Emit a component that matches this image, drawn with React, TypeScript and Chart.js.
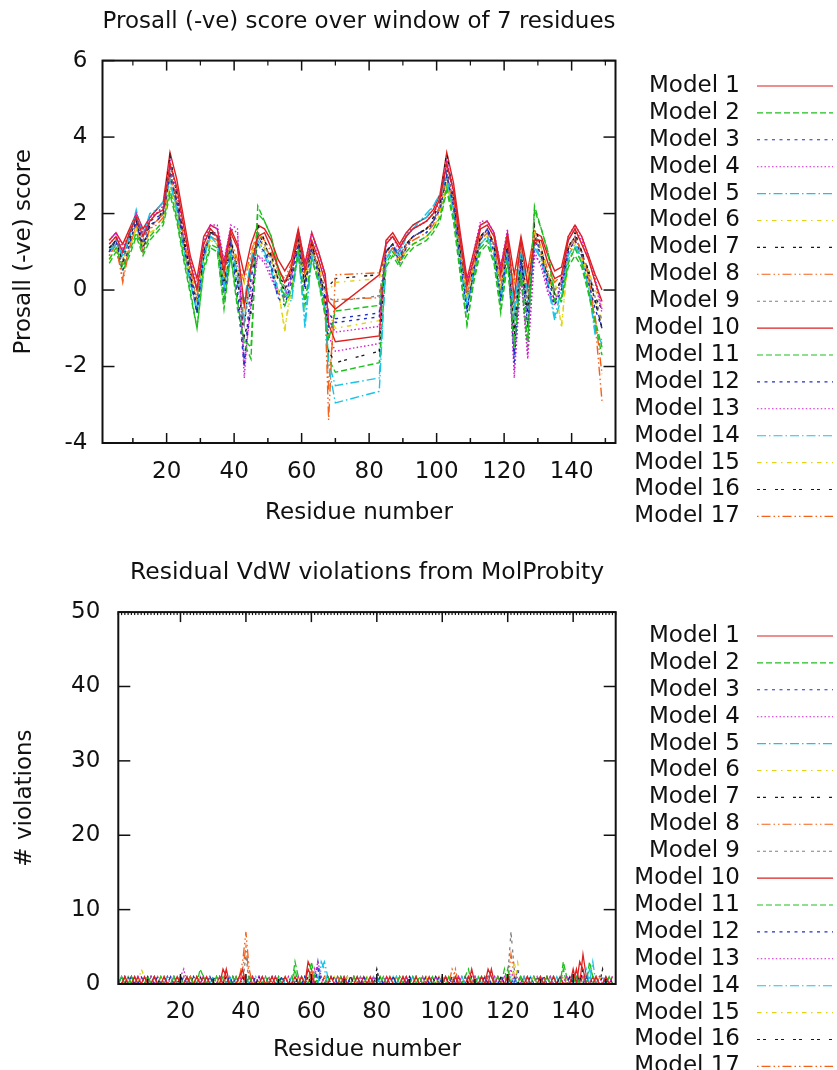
import React, { useEffect, useRef } from "react";
import { Chart, registerables } from "chart.js";

Chart.register(...registerables);

const FONT_FAMILY = "'DejaVu Sans', 'Liberation Sans', sans-serif";
const FONT_SIZE = 23;
const INK = "#111111";

const TOP_TITLE = "Prosall (-ve) score over window of 7 residues";
const TOP_Y_TITLE = "Prosall (-ve) score";
const BOTTOM_TITLE = "Residual VdW violations from MolProbity";
const BOTTOM_Y_TITLE = "# violations";
const X_TITLE = "Residue number";

const MODEL_LABELS = [
  "Model 1", "Model 2", "Model 3", "Model 4", "Model 5", "Model 6", "Model 7", "Model 8", "Model 9",
  "Model 10", "Model 11", "Model 12", "Model 13", "Model 14", "Model 15", "Model 16", "Model 17",
];

const LINE_COLORS = ["#dd2020", "#1fbf1f", "#2030c0", "#d020d0", "#1ac4e6", "#e0d414", "#1a1a1a", "#f5621a", "#808080"];
const LINE_DASHES = [
  [], [6, 3], [3, 4.5], [1.5, 2.25], [9, 3, 1.5, 3], [4.5, 4.5, 1.5, 4.5], [3, 3, 3, 9],
  [1.5, 3, 9, 3, 1.5, 3], [3, 3, 3, 3, 3, 3, 3, 6],
];

const X_TICKS = [20, 40, 60, 80, 100, 120, 140];
const X_MINOR_TICKS = [10, 30, 50, 70, 90, 110, 130, 150];
const TOP_Y_TICKS = [-4, -2, 0, 2, 4, 6];
const BOTTOM_Y_TICKS = [0, 10, 20, 30, 40, 50];

// Prosall window scores (residues sampled every 2; straight segment across 70-83)
const TOP_RESIDUES = [
  3, 5, 7, 9, 11, 13, 15, 17, 19, 21, 23, 25, 27, 29, 31, 33, 35, 37, 39, 41, 43, 45, 47, 49, 51, 53, 55, 57, 59, 61, 63, 65, 67, 68, 70,
  83, 85, 87, 89, 91, 93, 95, 97, 99, 101, 103, 105, 107, 109, 111, 113, 115, 117, 119, 121, 123, 125, 127, 129, 131, 133, 135, 137, 139, 141, 143, 145, 147, 149,
];

const PROSA_1 = [1.2,1.4,1.0,1.5,1.9,1.4,1.8,2.0,2.1,3.3,2.7,1.7,0.7,0.0,1.2,1.6,1.4,0.5,1.5,1.1,-0.4,0.6,1.4,1.5,1.1,0.6,0.2,0.6,1.5,0.5,1.3,0.8,0.2,-0.3,-0.5,
  0.4,1.2,1.4,1.1,1.4,1.6,1.7,1.8,2.0,2.4,3.3,2.6,1.3,0.1,0.8,1.6,1.7,1.4,0.4,1.4,-0.2,1.3,0.1,1.3,1.3,0.7,0.3,0.4,1.3,1.6,1.2,0.8,0.2,-0.3];
const PROSA_2 = [0.8,1.1,0.6,1.0,1.5,1.0,1.4,1.6,1.8,2.6,1.9,0.9,0.0,-1.0,0.6,1.2,1.1,-0.3,0.9,-0.3,-1.4,-1.8,2.2,1.8,1.4,0.5,-0.4,0.0,1.0,-0.3,0.8,0.3,-0.6,-1.3,-0.55,
  -0.4,0.7,1.0,0.7,1.0,1.2,1.3,1.4,1.6,1.9,2.7,1.9,0.5,-0.9,0.3,1.1,1.3,0.8,-0.5,0.8,-1.5,0.5,-1.3,2.2,1.6,1.0,-0.3,-0.2,0.7,1.1,0.7,0.0,-0.8,-1.5];
const PROSA_3 = [1.0,1.3,0.5,1.2,1.8,1.0,1.7,1.8,2.0,3.0,2.3,1.2,0.3,-0.6,0.9,1.5,1.4,-0.3,1.2,-0.2,-2.0,0.3,1.2,1.0,0.6,-0.2,-0.4,0.2,1.2,0.0,1.1,0.4,-0.3,-1.0,-0.75,
  -0.6,1.0,1.2,0.7,1.1,1.4,1.5,1.5,1.8,2.1,3.0,2.2,0.7,-0.6,0.5,1.3,1.6,1.0,-0.3,1.1,-1.9,0.8,-0.9,1.3,0.9,0.1,-0.4,0.0,1.0,1.3,0.9,0.2,-0.5,-1.0];
const PROSA_4 = [1.3,1.5,1.1,1.5,2.0,1.5,1.9,2.0,2.2,3.3,2.6,1.6,0.8,0.1,1.3,1.7,1.6,0.7,1.7,1.6,-2.3,0.0,0.9,0.8,0.4,-0.1,-0.2,0.3,1.5,0.6,1.5,0.9,0.3,-0.8,-1.1,
  -0.95,1.3,1.4,1.1,1.5,1.6,1.7,1.8,2.0,2.4,3.4,2.5,1.3,0.2,0.9,1.7,1.8,1.5,0.6,1.6,-2.3,0.4,-1.7,0.9,0.7,0.0,-0.3,0.1,1.3,1.6,1.3,0.8,0.2,-0.6];
const PROSA_5 = [1.0,1.2,0.9,1.4,2.1,1.4,2.0,2.1,2.3,2.8,2.1,1.1,0.2,-0.5,0.9,1.4,1.2,0.1,1.0,0.5,-0.3,0.8,1.3,1.0,0.6,0.0,0.0,-0.2,1.1,-1.0,0.9,0.3,-0.5,-2.0,-2.95,
  -2.65,0.8,1.1,0.9,1.4,1.6,1.8,1.9,2.2,2.5,2.9,2.1,0.8,-0.4,0.5,1.2,1.4,1.0,-0.2,1.0,-0.5,1.1,-0.1,1.2,0.8,0.2,-0.7,0.0,0.9,1.2,0.8,0.1,-1.2,-1.3];
const PROSA_6 = [0.8,1.1,0.8,1.1,1.6,1.2,1.5,1.6,1.8,2.7,2.0,1.1,0.4,-0.1,1.0,1.3,1.2,0.3,1.1,0.7,0.2,0.9,1.6,1.1,0.8,0.1,-1.1,0.3,1.0,0.4,1.0,0.6,0.1,0.0,0.2,
  0.3,0.9,1.0,0.8,1.0,1.2,1.3,1.4,1.6,2.0,2.7,2.0,0.8,-0.2,0.6,1.2,1.4,1.0,0.1,1.0,0.2,1.1,0.3,1.5,1.1,0.4,0.3,-1.0,0.9,1.2,0.8,0.5,0.0,-0.4];
const PROSA_7 = [1.1,1.3,0.7,1.3,1.8,1.1,1.7,1.8,2.1,3.5,2.5,1.4,0.5,-0.5,1.0,1.5,1.5,0.1,1.4,0.3,-1.2,-0.6,1.7,1.3,0.9,0.3,0.0,0.5,1.3,0.1,1.2,0.6,-0.2,-1.6,-1.9,
  -1.6,1.0,1.2,0.9,1.2,1.4,1.5,1.6,1.9,2.3,3.6,2.4,1.0,-0.4,0.6,1.4,1.6,1.2,-0.2,1.2,-1.2,0.9,-0.6,1.7,1.1,0.3,-0.1,0.3,1.1,1.5,1.0,0.5,-0.3,-1.0];
const PROSA_8 = [0.9,1.2,0.2,1.1,1.7,1.0,1.6,1.8,2.0,3.0,2.4,1.4,0.5,0.0,1.0,1.5,1.4,0.5,1.3,0.8,0.2,1.0,1.5,1.3,1.0,0.5,0.3,0.7,1.3,0.5,1.2,0.6,-0.6,-3.4,0.4,
  0.45,1.0,1.1,0.7,1.2,1.4,1.5,1.6,1.8,2.2,3.0,2.4,1.1,-0.1,0.7,1.4,1.6,1.2,0.2,1.2,0.2,1.2,0.2,1.6,1.1,0.5,0.2,0.4,1.1,1.4,1.0,0.4,-0.9,-2.9];
const PROSA_9 = [1.0,1.3,0.8,1.3,1.7,1.3,1.7,1.8,2.0,3.1,2.3,1.3,0.6,-0.3,1.0,1.5,1.4,0.3,1.3,0.4,-0.9,0.3,1.5,1.2,0.8,0.3,0.1,0.4,1.3,0.2,1.1,0.5,0.0,-0.2,-0.3,
  -0.15,1.0,1.2,0.9,1.2,1.4,1.5,1.6,1.8,2.2,3.1,2.3,1.0,-0.2,0.6,1.4,1.5,1.2,0.0,1.2,-1.0,1.0,-0.4,1.5,1.0,0.4,0.0,0.2,1.1,1.4,1.0,0.5,-0.2,-0.8];
const PROSA_10 = [1.3,1.5,1.2,1.6,2.0,1.6,1.9,2.1,2.3,3.6,2.9,1.9,0.9,0.3,1.4,1.7,1.6,0.7,1.6,1.2,0.4,1.2,1.7,1.6,1.3,0.8,0.5,0.8,1.6,0.7,1.5,1.0,0.4,-0.9,-1.35,
  -1.2,1.3,1.5,1.2,1.5,1.7,1.8,1.9,2.1,2.5,3.6,2.8,1.5,0.3,1.0,1.7,1.8,1.5,0.6,1.5,0.4,1.4,0.5,1.5,1.4,0.9,0.5,0.6,1.4,1.7,1.4,0.9,0.4,0.0];
const PROSA_11 = [0.7,1.0,0.5,0.9,1.4,0.9,1.3,1.5,1.7,2.5,1.8,0.8,-0.1,-1.0,0.5,1.1,1.0,-0.5,0.9,-0.5,-1.3,-1.5,2.0,1.8,1.4,0.6,-0.2,0.0,0.9,-0.4,0.8,0.2,-0.7,-1.8,-2.15,
  -1.9,0.6,0.9,0.6,0.9,1.1,1.2,1.3,1.5,1.8,2.6,1.8,0.4,-0.9,0.2,1.0,1.2,0.7,-0.6,0.7,-1.2,0.3,-1.5,2.1,1.6,1.0,-0.1,-0.3,0.6,0.9,0.6,-0.1,-0.9,-1.7];
const PROSA_12 = [1.1,1.3,0.9,1.4,1.9,1.2,1.8,1.9,2.0,3.2,2.4,1.3,0.4,-0.6,1.0,1.5,1.5,0.0,1.4,0.0,-1.8,-0.4,1.4,1.1,0.7,0.0,-0.2,0.4,1.3,0.1,1.2,0.5,-0.2,-0.6,-0.85,
  -0.7,1.0,1.2,0.8,1.2,1.4,1.5,1.6,1.8,2.2,3.2,2.3,0.9,-0.5,0.5,1.4,1.6,1.2,-0.2,1.3,-1.7,0.8,-1.0,1.4,1.0,0.3,-0.3,0.1,1.1,1.4,1.0,0.4,-0.3,-1.0];
const PROSA_13 = [1.2,1.4,1.0,1.5,1.9,1.4,1.9,2.0,2.2,3.4,2.6,1.5,0.7,0.0,1.2,1.7,1.7,0.8,1.6,1.5,-2.0,-0.4,0.9,0.7,0.3,-0.1,0.0,0.3,1.6,0.7,1.5,1.0,0.4,-1.2,-1.6,
  -1.4,1.2,1.4,1.0,1.4,1.6,1.7,1.8,2.0,2.3,3.4,2.6,1.3,0.2,1.0,1.8,1.8,1.5,0.6,1.5,-2.1,0.4,-1.8,1.0,0.6,-0.1,-0.4,0.3,1.4,1.7,1.4,0.9,0.3,-0.5];
const PROSA_14 = [1.0,1.3,0.9,1.4,2.0,1.5,1.9,2.1,2.3,2.9,2.1,1.1,0.2,-0.6,0.8,1.4,1.3,0.0,1.0,0.2,-0.8,0.5,1.2,0.9,0.5,-0.2,-0.1,-0.3,1.0,-0.8,0.9,0.2,-0.5,-1.9,-2.5,
  -2.3,0.8,1.1,1.0,1.4,1.7,1.8,2.0,2.2,2.5,3.0,2.0,0.7,-0.5,0.4,1.2,1.4,0.9,-0.3,0.9,-0.9,0.7,-0.5,1.1,0.8,0.1,-0.8,-0.2,0.8,1.1,0.7,0.1,-1.1,-1.4];
const PROSA_15 = [0.8,1.1,0.7,1.1,1.6,1.1,1.5,1.6,1.8,2.7,1.9,1.0,0.2,-0.3,0.8,1.3,1.2,0.2,1.1,0.3,-0.7,0.4,1.3,1.0,0.6,0.0,-1.0,0.0,1.0,0.1,1.0,0.4,-0.1,-0.6,-1.0,
  -0.8,0.8,1.0,0.8,1.0,1.2,1.3,1.4,1.6,2.0,2.8,2.0,0.7,-0.4,0.4,1.2,1.4,1.0,-0.2,1.0,-0.8,0.8,-0.5,1.3,0.8,0.2,0.0,-0.9,0.8,1.1,0.8,0.2,-0.3,-0.8];
const PROSA_16 = [1.0,1.4,0.7,1.4,1.8,1.2,1.8,1.8,2.0,3.1,2.3,1.3,0.4,-0.3,1.0,1.5,1.4,0.3,1.3,0.6,-0.9,0.6,1.5,1.2,0.8,0.3,0.2,0.4,1.3,0.3,1.2,0.6,0.0,0.1,0.3,
  0.4,1.0,1.2,0.9,1.2,1.4,1.5,1.6,1.8,2.2,3.0,2.3,1.0,-0.2,0.6,1.4,1.6,1.2,0.0,1.2,-0.7,1.0,-0.4,1.5,1.0,0.4,0.0,0.2,1.1,1.4,1.0,0.5,-0.2,-0.5];
const PROSA_17 = [0.9,1.2,0.3,1.2,1.6,1.1,1.6,1.7,1.9,2.9,2.2,1.2,0.3,-0.2,0.9,1.4,1.3,0.4,1.2,0.6,-0.5,0.8,1.4,1.1,0.9,0.3,0.2,0.5,1.2,0.4,1.1,0.5,-0.4,-2.6,-0.25,
  -0.2,0.9,1.1,0.8,1.1,1.3,1.4,1.5,1.7,2.1,2.9,2.2,0.9,-0.1,0.6,1.3,1.5,1.1,0.1,1.1,-0.6,0.9,-0.3,1.4,0.9,0.3,0.0,0.2,1.0,1.3,0.9,0.3,-0.7,-2.2];

const TOP_SERIES = [PROSA_1, PROSA_2, PROSA_3, PROSA_4, PROSA_5, PROSA_6, PROSA_7, PROSA_8, PROSA_9,
  PROSA_10, PROSA_11, PROSA_12, PROSA_13, PROSA_14, PROSA_15, PROSA_16, PROSA_17];

// VdW violation counts: [residue, count] for residues with violations (all other residues 0)
const BOTTOM_RESIDUES = Array.from({ length: 152 }, (_, i) => i + 1);
const X2_MINOR_TICKS = Array.from({ length: 153 }, (_, i) => i + 1);

const VDW_1 = [[3,1],[6,1],[9,1],[12,1],[15,1],[19,1],[22,1],[25,1],[28,1],[33,2],[34,1],[38,1],[39,2],[45,1],[48,1],[52,1],[57,1],[59,2],[60,1],[66,1],[70,1],[74,1],[78,1],[84,1],[88,1],[92,1],[96,1],[101,1],[104,1],[108,1],[112,1],[114,2],[115,1],[120,1],[126,1],[130,1],[134,1],[140,2],[142,3],[143,2],[147,1],[150,1]];
const VDW_2 = [[2,1],[5,1],[10,1],[14,1],[18,1],[23,1],[26,2],[27,1],[31,1],[36,1],[41,1],[46,1],[50,1],[55,3],[56,1],[60,3],[61,1],[65,1],[69,1],[73,1],[77,1],[82,1],[87,1],[91,1],[93,1],[97,1],[102,1],[107,1],[108,2],[111,1],[117,1],[120,2],[124,1],[128,1],[132,1],[137,2],[141,1],[145,3],[146,1],[151,1]];
const VDW_3 = [[4,1],[8,1],[13,1],[17,1],[21,1],[24,1],[29,1],[35,1],[37,1],[43,1],[47,1],[51,1],[58,1],[62,2],[67,1],[72,1],[76,1],[81,1],[85,1],[90,1],[95,1],[99,1],[103,1],[109,1],[113,1],[118,1],[122,1],[127,1],[131,1],[136,1],[139,1],[144,1],[149,1]];
const VDW_4 = [[3,1],[7,1],[11,1],[16,1],[20,1],[21,2],[27,1],[32,1],[36,1],[42,1],[44,1],[49,1],[53,1],[61,1],[62,3],[63,1],[68,1],[75,1],[79,1],[83,1],[89,1],[94,1],[98,1],[105,1],[110,1],[116,1],[119,1],[123,1],[129,1],[133,1],[138,1],[143,1],[148,1],[152,1]];
const VDW_5 = [[2,1],[6,1],[12,1],[18,1],[22,1],[28,1],[30,1],[35,1],[40,1],[45,1],[50,1],[54,1],[58,1],[63,3],[64,2],[70,1],[74,1],[80,1],[86,1],[91,1],[96,1],[100,1],[106,1],[111,1],[115,1],[121,1],[125,1],[130,1],[135,1],[141,1],[144,2],[146,3],[150,1]];
const VDW_6 = [[4,1],[8,2],[9,1],[14,1],[19,1],[25,1],[31,1],[37,1],[43,1],[48,1],[53,1],[57,1],[64,1],[71,1],[77,1],[84,1],[92,1],[95,1],[102,1],[109,1],[116,1],[122,3],[123,1],[128,1],[134,1],[140,1],[147,1]];
const VDW_7 = [[5,1],[10,1],[15,1],[20,1],[26,1],[30,1],[34,1],[39,1],[44,1],[51,1],[56,1],[59,1],[65,1],[72,1],[78,1],[80,2],[85,1],[90,1],[97,1],[103,1],[107,1],[112,1],[118,1],[124,1],[129,1],[135,1],[139,1],[142,1],[149,2],[151,1]];
const VDW_8 = [[3,1],[9,1],[13,1],[17,1],[23,1],[29,1],[33,1],[38,1],[39,3],[40,7],[41,2],[47,1],[52,1],[60,2],[66,1],[73,1],[79,1],[86,1],[93,1],[99,1],[103,2],[104,1],[110,1],[114,1],[119,1],[126,1],[131,1],[137,1],[143,1],[148,1]];
const VDW_9 = [[6,1],[11,1],[16,1],[24,1],[30,1],[36,1],[40,4],[46,1],[54,1],[61,1],[67,1],[75,1],[82,1],[88,1],[94,1],[100,1],[106,1],[113,1],[120,1],[121,7],[122,2],[127,1],[133,1],[138,1],[145,1],[150,1]];
const VDW_10 = [[2,1],[7,1],[12,1],[18,1],[23,1],[27,1],[32,1],[34,2],[39,1],[42,1],[49,1],[55,1],[59,3],[60,2],[64,1],[69,1],[76,1],[83,1],[89,1],[95,1],[101,1],[105,1],[109,2],[113,1],[115,2],[117,1],[125,1],[132,1],[136,1],[141,2],[143,4],[144,1],[146,1],[152,1]];
const VDW_11 = [[4,1],[10,1],[14,1],[20,1],[25,1],[28,1],[33,1],[37,1],[41,1],[47,1],[55,2],[57,1],[62,1],[68,1],[74,1],[81,1],[87,1],[92,1],[98,1],[104,1],[108,1],[112,1],[119,2],[124,1],[130,1],[137,3],[138,1],[142,1],[147,1]];
const VDW_12 = [[5,1],[11,1],[17,1],[22,1],[29,1],[35,1],[42,1],[48,1],[53,1],[58,1],[62,3],[66,1],[71,1],[77,1],[84,1],[90,1],[96,1],[102,1],[107,1],[114,1],[118,1],[123,2],[128,1],[134,1],[140,1],[145,1],[151,1]];
const VDW_13 = [[3,1],[8,1],[13,1],[19,1],[21,1],[26,1],[31,1],[38,1],[44,1],[50,1],[56,1],[61,2],[63,1],[70,1],[76,1],[82,1],[89,1],[94,1],[101,1],[106,1],[111,1],[117,1],[121,2],[126,1],[132,1],[139,1],[144,1],[150,1]];
const VDW_14 = [[6,1],[12,1],[16,1],[23,1],[27,1],[32,1],[36,1],[43,1],[51,1],[57,1],[63,2],[64,3],[65,1],[73,1],[79,1],[85,1],[91,1],[97,1],[104,1],[110,1],[116,1],[122,1],[127,1],[133,1],[140,1],[145,2],[146,1],[149,1]];
const VDW_15 = [[2,1],[7,1],[8,1],[15,1],[21,1],[26,1],[34,1],[40,1],[45,1],[52,1],[58,1],[67,1],[72,1],[78,1],[86,1],[93,1],[99,1],[105,1],[111,1],[118,1],[122,2],[123,3],[129,1],[135,1],[142,1],[148,1]];
const VDW_16 = [[4,1],[9,1],[14,1],[20,1],[24,1],[30,1],[35,1],[41,1],[46,1],[54,1],[59,1],[65,1],[71,1],[75,1],[80,1],[88,1],[92,1],[98,1],[103,1],[109,1],[115,1],[120,1],[125,1],[131,1],[136,1],[141,1],[143,2],[147,1],[152,1]];
const VDW_17 = [[5,1],[10,1],[15,1],[22,1],[25,1],[31,1],[37,1],[39,2],[40,5],[41,1],[49,1],[56,1],[60,1],[68,1],[73,1],[81,1],[87,1],[94,1],[100,1],[104,2],[108,1],[114,1],[121,4],[122,1],[128,1],[134,1],[138,1],[144,1],[150,1]];

const BOTTOM_SERIES = [VDW_1, VDW_2, VDW_3, VDW_4, VDW_5, VDW_6, VDW_7, VDW_8, VDW_9,
  VDW_10, VDW_11, VDW_12, VDW_13, VDW_14, VDW_15, VDW_16, VDW_17];

function denseCounts(pairs: number[][]): number[] {
  const counts = BOTTOM_RESIDUES.map(() => 0);
  for (const [r, n] of pairs) counts[r - 1] = n;
  return counts;
}

function makeDatasets(xs: number[], series: number[][], width: number) {
  return series.map((ys, i) => ({
    label: MODEL_LABELS[i],
    data: xs.map((x, j) => ({ x, y: ys[j] })),
    borderColor: LINE_COLORS[i % 9],
    borderDash: LINE_DASHES[i % 9],
    borderWidth: width,
    pointRadius: 0,
    fill: false,
    tension: 0,
  }));
}

type Frame = {
  xMinorTop: number[];
  topMinorLen: number;
  yTicks: number[];
  legendTop: number;
  legendStep: number;
};

function framePlugin(frame: Frame) {
  return {
    id: "gnuFrame",
    afterDatasetsDraw(chart: any) {
      const { ctx, chartArea: a, scales } = chart;
      const xs = scales.x;
      const ys = scales.y;
      const seg = (x1: number, y1: number, x2: number, y2: number) => {
        ctx.beginPath();
        ctx.moveTo(x1, y1);
        ctx.lineTo(x2, y2);
        ctx.stroke();
      };
      ctx.save();
      ctx.setLineDash([]);
      ctx.strokeStyle = INK;
      ctx.lineWidth = 2;
      ctx.strokeRect(a.left, a.top, a.right - a.left, a.bottom - a.top);
      ctx.lineWidth = 1.5;
      X_TICKS.forEach((v) => {
        const px = xs.getPixelForValue(v);
        seg(px, a.bottom, px, a.bottom - 10);
        seg(px, a.top, px, a.top + 10);
      });
      X_MINOR_TICKS.forEach((v) => {
        const px = xs.getPixelForValue(v);
        seg(px, a.bottom, px, a.bottom - 5);
      });
      ctx.lineWidth = 1.2;
      frame.xMinorTop.forEach((v) => {
        const px = xs.getPixelForValue(v);
        seg(px, a.top, px, a.top + frame.topMinorLen);
      });
      ctx.lineWidth = 1.5;
      frame.yTicks.forEach((v) => {
        const py = ys.getPixelForValue(v);
        seg(a.left, py, a.left + 12, py);
        seg(a.right, py, a.right - 12, py);
      });
      // key
      ctx.font = `${FONT_SIZE}px ${FONT_FAMILY}`;
      ctx.textAlign = "right";
      ctx.textBaseline = "middle";
      chart.data.datasets.forEach((ds: any, i: number) => {
        const yy = frame.legendTop + i * frame.legendStep;
        ctx.fillStyle = INK;
        ctx.fillText(ds.label, 740, yy);
        ctx.strokeStyle = ds.borderColor;
        ctx.lineWidth = 1.1;
        ctx.setLineDash(ds.borderDash || []);
        seg(757, yy, 833, yy);
      });
      ctx.restore();
    },
  };
}

type PanelSpec = {
  title: string;
  yTitle: string;
  yMin: number;
  yMax: number;
  yTicks: number[];
  datasets: any[];
  yAxisWidth: number;
  xAxisHeight: number;
  rightPad: number;
  titlePad: { top: number; bottom: number };
  yTickPad: number;
  yTitlePad: number;
  xTickPad: number;
  xTitlePad: number;
  frame: Frame;
};

const font = { family: FONT_FAMILY, size: FONT_SIZE, weight: "normal" as const };
const titleFont = { family: FONT_FAMILY, size: 23.5, weight: "normal" as const };

function buildConfig(spec: PanelSpec): any {
  return {
    type: "line",
    data: { datasets: spec.datasets },
    options: {
      animation: false,
      responsive: false,
      maintainAspectRatio: false,
      events: [],
      layout: { padding: { left: 0, top: 0, right: spec.rightPad, bottom: 0 } },
      plugins: {
        legend: { display: false },
        tooltip: { enabled: false },
        title: {
          display: true,
          text: spec.title,
          fullSize: false,
          color: INK,
          font: titleFont,
          padding: spec.titlePad,
        },
      },
      scales: {
        x: {
          type: "linear",
          min: 1,
          max: 153,
          grid: { display: false, drawTicks: false },
          border: { display: false },
          ticks: { color: INK, font, padding: spec.xTickPad, maxRotation: 0, autoSkip: false },
          title: { display: true, text: X_TITLE, color: INK, font, padding: { top: 0, bottom: spec.xTitlePad } },
          afterBuildTicks: (s: any) => {
            s.ticks = X_TICKS.map((v) => ({ value: v }));
          },
          afterFit: (s: any) => {
            s.height = spec.xAxisHeight;
          },
        },
        y: {
          type: "linear",
          min: spec.yMin,
          max: spec.yMax,
          grid: { display: false, drawTicks: false },
          border: { display: false },
          ticks: { color: INK, font, padding: spec.yTickPad, autoSkip: false },
          title: { display: true, text: spec.yTitle, color: INK, font, padding: { top: spec.yTitlePad, bottom: 0 } },
          afterBuildTicks: (s: any) => {
            s.ticks = spec.yTicks.map((v) => ({ value: v }));
          },
          afterFit: (s: any) => {
            s.width = spec.yAxisWidth;
          },
        },
      },
    },
    plugins: [framePlugin(spec.frame)],
  };
}

const TOP_SPEC: PanelSpec = {
  title: TOP_TITLE,
  yTitle: TOP_Y_TITLE,
  yMin: -4,
  yMax: 6,
  yTicks: TOP_Y_TICKS,
  datasets: makeDatasets(TOP_RESIDUES, TOP_SERIES, 1.4),
  yAxisWidth: 102.5,
  xAxisHeight: 97,
  rightPad: 221.5,
  titlePad: { top: 8.2, bottom: 24.2 },
  yTickPad: 15,
  yTitlePad: 10,
  xTickPad: 15.5,
  xTitlePad: 13,
  frame: { xMinorTop: X_MINOR_TICKS, topMinorLen: 5, yTicks: TOP_Y_TICKS, legendTop: 86, legendStep: 26.9 },
};

const BOTTOM_SPEC: PanelSpec = {
  title: BOTTOM_TITLE,
  yTitle: BOTTOM_Y_TITLE,
  yMin: 0,
  yMax: 50,
  yTicks: BOTTOM_Y_TICKS,
  datasets: makeDatasets(BOTTOM_RESIDUES, BOTTOM_SERIES.map(denseCounts), 1.3),
  yAxisWidth: 118.3,
  xAxisHeight: 86,
  rightPad: 221.3,
  titlePad: { top: 18.7, bottom: 25.2 },
  yTickPad: 18,
  yTitlePad: 11,
  xTickPad: 14.7,
  xTitlePad: 6.2,
  frame: { xMinorTop: X2_MINOR_TICKS, topMinorLen: 3, yTicks: BOTTOM_Y_TICKS, legendTop: 96, legendStep: 26.9 },
};

function Panel({ spec, top, height }: { spec: PanelSpec; top: number; height: number }) {
  const ref = useRef<HTMLCanvasElement>(null);
  useEffect(() => {
    const chart = new Chart(ref.current as HTMLCanvasElement, buildConfig(spec));
    return () => chart.destroy();
  }, [spec]);
  return (
    <canvas
      ref={ref}
      width={837}
      height={height}
      style={{ position: "absolute", left: 0, top, width: 837, height, display: "block" }}
    />
  );
}

export default function App() {
  return (
    <div
      style={{
        position: "absolute",
        left: 0,
        top: 0,
        width: 837,
        height: 1070,
        overflow: "hidden",
        background: "#ffffff",
      }}
    >
      <Panel spec={TOP_SPEC} top={0} height={540} />
      <Panel spec={BOTTOM_SPEC} top={540} height={530} />
    </div>
  );
}
